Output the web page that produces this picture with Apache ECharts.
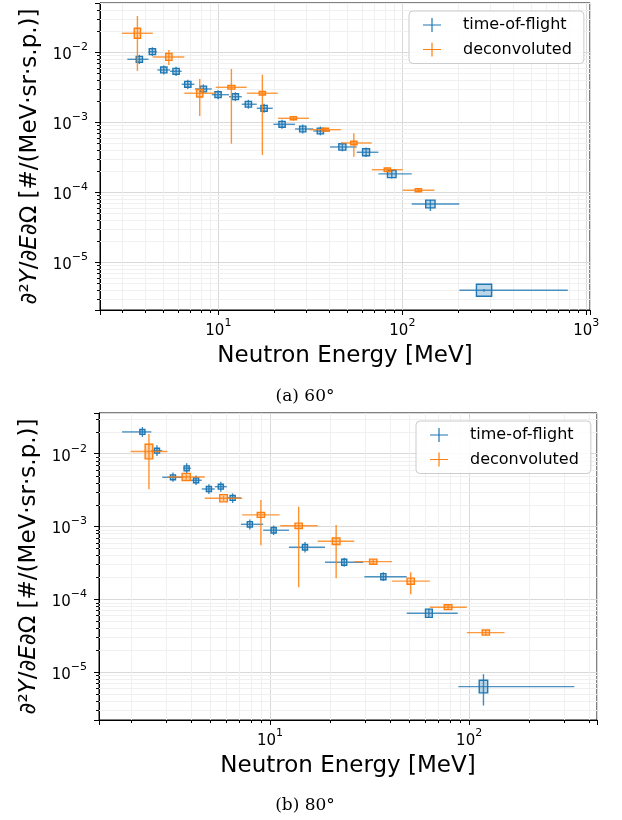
<!DOCTYPE html>
<html><head><meta charset="utf-8">
<script src="https://cdn.jsdelivr.net/npm/echarts@6/dist/echarts.min.js"></script>
<style>html,body{margin:0;padding:0;background:#fff}#c{width:622px;height:820px}</style>
</head><body><div id="c"></div>
<script>
// Each row: [E, E_low, E_high, Y, Y_low, Y_high, relSysE, relSysY]
const tof60 = [
  [3.72, 3.20, 4.17, 7.94e-3, 6.8e-3, 9.2e-3, 0.04, 0.10],
  [4.38, 4.17, 4.63, 1.02e-2, 8.8e-3, 1.18e-2, 0.04, 0.10],
  [5.05, 4.66, 5.46, 5.59e-3, 4.8e-3, 6.5e-3, 0.04, 0.10],
  [5.89, 5.46, 6.32, 5.35e-3, 4.6e-3, 6.2e-3, 0.04, 0.10],
  [6.82, 6.32, 7.41, 3.49e-3, 3.0e-3, 4.05e-3, 0.04, 0.10],
  [8.29, 7.47, 9.21, 2.99e-3, 2.58e-3, 3.47e-3, 0.04, 0.10],
  [9.96, 9.21, 11.43, 2.48e-3, 2.14e-3, 2.88e-3, 0.04, 0.10],
  [12.37, 11.43, 13.40, 2.32e-3, 2.0e-3, 2.69e-3, 0.04, 0.10],
  [14.56, 13.40, 16.17, 1.81e-3, 1.56e-3, 2.1e-3, 0.04, 0.10],
  [17.72, 16.17, 19.75, 1.585e-3, 1.37e-3, 1.84e-3, 0.04, 0.10],
  [22.19, 19.9, 26.11, 9.36e-4, 8.1e-4, 1.09e-3, 0.04, 0.10],
  [28.75, 26.11, 32.83, 8.02e-4, 6.9e-4, 9.3e-4, 0.04, 0.10],
  [35.84, 32.83, 40.46, 7.51e-4, 6.5e-4, 8.7e-4, 0.04, 0.10],
  [47.2, 40.46, 56.5, 4.44e-4, 3.85e-4, 5.15e-4, 0.045, 0.11],
  [63.5, 56.5, 74.1, 3.73e-4, 3.2e-4, 4.35e-4, 0.045, 0.12],
  [87.6, 74.1, 112.5, 1.83e-4, 1.57e-4, 2.13e-4, 0.055, 0.13],
  [142, 112.5, 204, 6.8e-5, 5.4e-5, 7.76e-5, 0.06, 0.135],
  [278, 204, 793, 3.98e-6, 3.8e-6, 4.15e-6, 0.10, 0.22]
];
const dec60 = [
  [3.63, 2.99, 4.40, 1.87e-2, 5.41e-3, 3.30e-2, 0.04, 0.18],
  [5.38, 4.40, 6.53, 8.57e-3, 6.58e-3, 1.08e-2, 0.04, 0.12],
  [7.92, 6.53, 9.68, 2.60e-3, 1.23e-3, 4.15e-3, 0.04, 0.13],
  [11.77, 9.68, 14.26, 3.16e-3, 4.95e-4, 5.77e-3, 0.045, 0.06],
  [17.34, 14.3, 21.03, 2.60e-3, 3.41e-4, 4.79e-3, 0.04, 0.06],
  [25.56, 21.1, 31.1, 1.14e-3, 1.05e-3, 1.23e-3, 0.04, 0.05],
  [38.2, 31.2, 46.3, 7.84e-4, 7.3e-4, 8.4e-4, 0.04, 0.05],
  [54.5, 46.3, 68.2, 5.06e-4, 3.23e-4, 6.97e-4, 0.04, 0.06],
  [82.9, 68.3, 100.5, 2.10e-4, 1.95e-4, 2.25e-4, 0.04, 0.06],
  [122.2, 100.7, 149.2, 1.07e-4, 1.0e-4, 1.14e-4, 0.04, 0.05]
];
const tof80 = [
  [2.29, 1.81, 2.54, 1.99e-2, 1.7e-2, 2.32e-2, 0.03, 0.08],
  [2.71, 2.54, 2.88, 1.10e-2, 9.3e-3, 1.3e-2, 0.03, 0.08],
  [3.26, 2.88, 3.67, 4.74e-3, 4.1e-3, 5.5e-3, 0.03, 0.08],
  [3.82, 3.67, 4.01, 6.30e-3, 5.4e-3, 7.4e-3, 0.03, 0.08],
  [4.26, 4.01, 4.55, 4.31e-3, 3.7e-3, 5.0e-3, 0.03, 0.08],
  [4.94, 4.55, 5.29, 3.27e-3, 2.8e-3, 3.8e-3, 0.03, 0.08],
  [5.67, 5.29, 6.08, 3.52e-3, 3.0e-3, 4.1e-3, 0.03, 0.08],
  [6.50, 6.08, 7.15, 2.46e-3, 2.1e-3, 2.85e-3, 0.03, 0.08],
  [7.93, 7.15, 9.25, 1.07e-3, 9.1e-4, 1.25e-3, 0.03, 0.09],
  [10.44, 9.25, 12.46, 8.87e-4, 7.6e-4, 1.03e-3, 0.03, 0.09],
  [15.0, 12.46, 18.9, 5.18e-4, 4.4e-4, 6.1e-4, 0.03, 0.09],
  [23.6, 18.9, 29.4, 3.22e-4, 2.8e-4, 3.7e-4, 0.03, 0.10],
  [37.1, 29.8, 48.6, 2.04e-4, 1.78e-4, 2.35e-4, 0.03, 0.10],
  [62.8, 48.6, 87.7, 6.42e-5, 5.5e-5, 7.4e-5, 0.04, 0.14],
  [118, 88.3, 337, 6.30e-6, 3.46e-6, 9.33e-6, 0.05, 0.22]
];
const dec80 = [
  [2.47, 2.0, 3.06, 1.07e-2, 3.24e-3, 1.87e-2, 0.045, 0.26],
  [3.80, 3.06, 4.71, 4.79e-3, 4.4e-3, 5.2e-3, 0.048, 0.12],
  [5.85, 4.71, 7.26, 2.44e-3, 2.25e-3, 2.65e-3, 0.045, 0.12],
  [9.01, 7.26, 11.19, 1.44e-3, 5.52e-4, 2.31e-3, 0.043, 0.08],
  [13.94, 11.27, 17.37, 1.02e-3, 1.46e-4, 1.87e-3, 0.043, 0.09],
  [21.5, 17.37, 26.5, 6.26e-4, 1.94e-4, 1.05e-3, 0.045, 0.11],
  [33.0, 26.5, 41.0, 3.28e-4, 3.05e-4, 3.55e-4, 0.043, 0.085],
  [50.9, 41.0, 63.5, 1.77e-4, 1.17e-4, 2.35e-4, 0.043, 0.10],
  [78.4, 63.5, 97.4, 7.77e-5, 7.2e-5, 8.4e-5, 0.045, 0.08],
  [121.3, 97.4, 150.5, 3.48e-5, 3.2e-5, 3.75e-5, 0.043, 0.085]
];
const seriesNames = ['time-of-flight', 'deconvoluted'];
const captions = ['(a) 60°', '(b) 80°'];
const xTitle = 'Neutron Energy [MeV]';
const yTitle = '∂²{it|Y}/∂{it|E}∂Ω [#/(MeV·sr·s.p.)]';
const xRange60 = [2.273, 1047], yRange60 = [2.08e-6, 0.0506];
const xRange80 = [1.387, 438.3], yRange80 = [2.19e-6, 0.0362];

const BLUE = '#1f77b4', ORANGE = '#ff7f0e';
const FONT = 'DejaVu Sans';

function minorValues(lo, hi) {
  const out = [];
  for (let k = Math.floor(Math.log10(lo)); k <= Math.ceil(Math.log10(hi)); k++) {
    for (let m = 2; m <= 9; m++) {
      const v = m * Math.pow(10, k);
      if (v > lo * 1.0001 && v < hi * 0.9999) out.push(v);
    }
  }
  return out;
}
function powFmt(v) {
  const e = Math.log10(v);
  const r = Math.round(e);
  if (Math.abs(e - r) > 1e-6) return '';
  return '{b|10}{s|' + String(r).replace('-', '−') + '}';
}
const tickRich = {
  b: { fontSize: 15, fontFamily: FONT, color: '#000', verticalAlign: 'bottom', lineHeight: 21 },
  s: { fontSize: 11, fontFamily: FONT, color: '#000', verticalAlign: 'top', lineHeight: 21 }
};

function makeX(idx, range) {
  return {
    type: 'log', logBase: 10, gridIndex: idx, min: range[0], max: range[1],
    axisLine: { show: true, lineStyle: { color: '#000', width: 1 } },
    axisTick: { show: true, length: 5, lineStyle: { color: '#000', width: 1 } },
    minorTick: { show: false }, minorSplitLine: { show: false },
    splitLine: { show: true, lineStyle: { color: '#d9d9d9', width: 1 } },
    axisLabel: { formatter: powFmt, rich: tickRich, margin: 8, showMinLabel: true, showMaxLabel: true, hideOverlap: false },
    name: xTitle, nameLocation: 'middle', nameGap: 35,
    nameTextStyle: { fontSize: 23, fontFamily: FONT, color: '#000' }
  };
}
function makeY(idx, range) {
  return {
    type: 'log', logBase: 10, gridIndex: idx, min: range[0], max: range[1],
    axisLine: { show: true, lineStyle: { color: '#000', width: 1 } },
    axisTick: { show: true, length: 5, lineStyle: { color: '#000', width: 1 } },
    minorTick: { show: false }, minorSplitLine: { show: false },
    splitLine: { show: true, lineStyle: { color: '#d9d9d9', width: 1 } },
    axisLabel: { formatter: powFmt, rich: tickRich, margin: 12, hideOverlap: false },
    name: yTitle, nameLocation: 'middle', nameGap: 55, nameRotate: 90,
    nameTextStyle: {
      fontSize: 23, fontFamily: FONT, color: '#000',
      rich: { it: { fontSize: 23, fontFamily: FONT, fontStyle: 'italic', color: '#000' } }
    }
  };
}

function minorSeries(idx, xr, yr) {
  const data = [];
  minorValues(xr[0], xr[1]).forEach(v => data.push([v, yr[0], 0]));
  minorValues(yr[0], yr[1]).forEach(v => data.push([xr[0], v, 1]));
  return {
    type: 'custom', xAxisIndex: idx, yAxisIndex: idx, silent: true, z: 1,
    data: data, encode: { x: 0, y: 1 },
    renderItem: function (params, api) {
      const cs = params.coordSys;
      const p = api.coord([api.value(0), api.value(1)]);
      const grid = { stroke: '#f0f0f0', lineWidth: 1 };
      const tk = { stroke: '#000', lineWidth: 1 };
      if (api.value(2) === 0) {
        const x = Math.round(p[0]) + 0.5;
        return { type: 'group', children: [
          { type: 'line', shape: { x1: x, y1: cs.y, x2: x, y2: cs.y + cs.height }, style: grid },
          { type: 'line', shape: { x1: x, y1: cs.y + cs.height, x2: x, y2: cs.y + cs.height + 3 }, style: tk }
        ] };
      } else {
        const y = Math.round(p[1]) + 0.5;
        return { type: 'group', children: [
          { type: 'line', shape: { x1: cs.x, y1: y, x2: cs.x + cs.width, y2: y }, style: grid },
          { type: 'line', shape: { x1: cs.x - 3, y1: y, x2: cs.x, y2: y }, style: tk }
        ] };
      }
    }
  };
}

function errSeries(name, idx, data, color, fill) {
  return {
    name: name, type: 'custom', xAxisIndex: idx, yAxisIndex: idx, z: 5,
    itemStyle: { color: color },
    data: data, encode: { x: 0, y: 3 },
    renderItem: function (params, api) {
      const E = api.value(0), El = api.value(1), Eh = api.value(2);
      const Y = api.value(3), Yl = api.value(4), Yh = api.value(5);
      const sx = api.value(6), sy = api.value(7);
      const c = api.coord([E, Y]);
      const l = api.coord([El, Y]), r = api.coord([Eh, Y]);
      const t = api.coord([E, Yh]), b = api.coord([E, Yl]);
      const b0 = api.coord([E / (1 + sx), Y * (1 + sy)]);
      const b1 = api.coord([E * (1 + sx), Y / (1 + sy)]);
      return { type: 'group', children: [
        { type: 'line', shape: { x1: l[0], y1: c[1], x2: r[0], y2: c[1] }, style: { stroke: color, lineWidth: 1.4, opacity: 0.8 } },
        { type: 'line', shape: { x1: c[0], y1: t[1], x2: c[0], y2: b[1] }, style: { stroke: color, lineWidth: 1.4, opacity: 0.85 } },
        { type: 'rect', shape: { x: b0[0], y: b0[1], width: b1[0] - b0[0], height: b1[1] - b0[1] },
          style: { fill: fill, stroke: color, lineWidth: 1.4 } }
      ] };
    }
  };
}

function makeLegend(left, top) {
  return {
    left: left, top: top, orient: 'vertical',
    data: seriesNames,
    icon: 'path://M0,6.4H18V7.6H0Z M8.4,0H9.6V14H8.4Z',
    itemWidth: 18, itemHeight: 14, itemGap: 6.5,
    padding: [5, 12, 5, 14],
    backgroundColor: 'rgba(255,255,255,0.85)',
    borderColor: '#cccccc', borderWidth: 1, borderRadius: 4,
    itemStyle: { borderWidth: 0 },
    textStyle: { fontSize: 16, fontFamily: FONT, color: '#000', lineHeight: 18, padding: [0, 0, 0, 17] },
    selectedMode: false
  };
}

const chart = echarts.init(document.getElementById('c'), null, { renderer: 'canvas' });
chart.setOption({
  animation: false,
  backgroundColor: '#fff',
  grid: [
    { left: 100, top: 3, width: 490, height: 307, show: true, borderColor: '#000', borderWidth: 1, backgroundColor: 'transparent', outerBoundsMode: 'none', containLabel: false },
    { left: 99, top: 413, width: 498, height: 307, show: true, borderColor: '#000', borderWidth: 1, backgroundColor: 'transparent', outerBoundsMode: 'none', containLabel: false }
  ],
  xAxis: [makeX(0, xRange60), makeX(1, xRange80)],
  yAxis: [makeY(0, yRange60), makeY(1, yRange80)],
  legend: [makeLegend(409, 11), makeLegend(416, 421)],
  series: [
    minorSeries(0, xRange60, yRange60),
    minorSeries(1, xRange80, yRange80),
    errSeries(seriesNames[0], 0, tof60, BLUE, 'rgba(31,119,180,0.3)'),
    errSeries(seriesNames[1], 0, dec60, ORANGE, 'rgba(255,127,14,0.3)'),
    errSeries(seriesNames[0], 1, tof80, BLUE, 'rgba(31,119,180,0.3)'),
    errSeries(seriesNames[1], 1, dec80, ORANGE, 'rgba(255,127,14,0.3)')
  ],
  graphic: [
    { type: 'text', x: 305, y: 397, style: { text: captions[0], fill: '#000', fontSize: 17, fontFamily: 'DejaVu Serif', align: 'center', verticalAlign: 'middle' } },
    { type: 'text', x: 305, y: 806, style: { text: captions[1], fill: '#000', fontSize: 17, fontFamily: 'DejaVu Serif', align: 'center', verticalAlign: 'middle' } }
  ]
});
</script>
</body></html>
